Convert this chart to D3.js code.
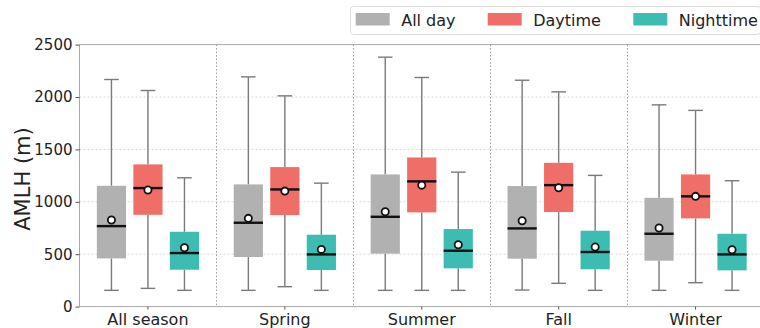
<!DOCTYPE html>
<html>
<head>
<meta charset="utf-8">
<script src="https://cdn.jsdelivr.net/npm/d3@7"></script>
<style>
  html, body { margin: 0; padding: 0; background: #fff; }
  svg { display: block; font-family: "DejaVu Sans", sans-serif; }
</style>
</head>
<body>
<svg id="chart" width="760" height="328"></svg>
<script>
// Seasons along the x axis and the three time-of-day series
const seasons = ["All season", "Spring", "Summer", "Fall", "Winter"];
const periods = ["All day", "Daytime", "Nighttime"];
const periodColors = ["#B1B1B1", "#EF6E67", "#3DBDB1"];

// Box statistics per series, one entry per season (metres)
const whiskerLow = {
  "All day":   [155, 155, 155, 158, 155],
  "Daytime":   [174, 190, 155, 222, 228],
  "Nighttime": [155, 155, 155, 155, 155]
};
const q1 = {
  "All day":   [460, 473, 505, 457, 438],
  "Daytime":   [876, 873, 899, 902, 842],
  "Nighttime": [352, 349, 365, 356, 346]
};
const medians = {
  "All day":   [768, 800, 857, 746, 695],
  "Daytime":   [1131, 1118, 1195, 1159, 1052],
  "Nighttime": [511, 498, 533, 521, 498]
};
const q3 = {
  "All day":   [1153, 1166, 1261, 1150, 1038],
  "Daytime":   [1357, 1331, 1423, 1372, 1261],
  "Nighttime": [714, 686, 740, 724, 695]
};
const whiskerHigh = {
  "All day":   [2167, 2192, 2380, 2160, 1925],
  "Daytime":   [2062, 2011, 2186, 2049, 1872],
  "Nighttime": [1229, 1178, 1283, 1252, 1201]
};
const means = {
  "All day":   [826, 842, 905, 819, 750],
  "Daytime":   [1112, 1102, 1159, 1134, 1052],
  "Nighttime": [562, 546, 590, 568, 543]
};
const yTicks = [0, 500, 1000, 1500, 2000, 2500];

const svg = d3.select("#chart");
const plot = { left: 79.5, right: 764, top: 44.6, bottom: 306.6 };

const x = d3.scaleBand().domain(seasons).range([plot.left, plot.right]).padding(0);
const groupW = x.bandwidth();
const xInner = d3.scaleBand().domain(periods).range([-0.4 * groupW, 0.4 * groupW]).padding(0);
const boxW = xInner.bandwidth() * 0.8;
const capW = boxW * 0.5;
const y = d3.scaleLinear().domain([0, 2500]).range([plot.bottom, plot.top]);

// horizontal grid
svg.append("g")
  .selectAll("line")
  .data(yTicks.filter(t => t > 0 && t < 2500))
  .join("line")
  .attr("x1", plot.left).attr("x2", plot.right)
  .attr("y1", d => y(d)).attr("y2", d => y(d))
  .attr("stroke", "#d9d9d9").attr("stroke-width", 1)
  .attr("stroke-dasharray", "2,2");

// dotted separators between seasons
svg.append("g")
  .selectAll("line")
  .data(seasons.slice(1))
  .join("line")
  .attr("x1", d => Math.round(x(d)) + 0.5).attr("x2", d => Math.round(x(d)) + 0.5)
  .attr("y1", plot.top).attr("y2", plot.bottom)
  .attr("stroke", "#9a9a9a").attr("stroke-width", 1)
  .attr("stroke-dasharray", "1.5,2");

// boxes
const boxes = [];
seasons.forEach((s, i) => {
  periods.forEach((p, j) => {
    boxes.push({
      season: s, period: p, color: periodColors[j],
      cx: x(s) + groupW / 2 + xInner(p) + xInner.bandwidth() / 2,
      lo: whiskerLow[p][i], q1: q1[p][i], med: medians[p][i],
      q3: q3[p][i], hi: whiskerHigh[p][i], mean: means[p][i]
    });
  });
});

const bg = svg.append("g").selectAll("g").data(boxes).join("g");

// whiskers
bg.append("line")
  .attr("x1", d => d.cx).attr("x2", d => d.cx)
  .attr("y1", d => y(d.q3)).attr("y2", d => y(d.hi))
  .attr("stroke", "#7a7a7a").attr("stroke-width", 1.4);
bg.append("line")
  .attr("x1", d => d.cx).attr("x2", d => d.cx)
  .attr("y1", d => y(d.q1)).attr("y2", d => y(d.lo))
  .attr("stroke", "#7a7a7a").attr("stroke-width", 1.4);
// caps
bg.append("line")
  .attr("x1", d => d.cx - capW / 2).attr("x2", d => d.cx + capW / 2)
  .attr("y1", d => y(d.hi)).attr("y2", d => y(d.hi))
  .attr("stroke", "#7a7a7a").attr("stroke-width", 1.4);
bg.append("line")
  .attr("x1", d => d.cx - capW / 2).attr("x2", d => d.cx + capW / 2)
  .attr("y1", d => y(d.lo)).attr("y2", d => y(d.lo))
  .attr("stroke", "#7a7a7a").attr("stroke-width", 1.4);
// box body
bg.append("rect")
  .attr("x", d => d.cx - boxW / 2).attr("width", boxW)
  .attr("y", d => y(d.q3)).attr("height", d => y(d.q1) - y(d.q3))
  .attr("fill", d => d.color);
// median
bg.append("line")
  .attr("x1", d => d.cx - boxW / 2).attr("x2", d => d.cx + boxW / 2)
  .attr("y1", d => y(d.med)).attr("y2", d => y(d.med))
  .attr("stroke", "#111").attr("stroke-width", 2.4);
// mean marker
bg.append("circle")
  .attr("cx", d => d.cx).attr("cy", d => y(d.mean)).attr("r", 3.6)
  .attr("fill", "#fff").attr("stroke", "#111").attr("stroke-width", 1.8);

// spines
const spine = "#a8a8a8";
svg.append("line").attr("x1", plot.left).attr("x2", plot.right)
  .attr("y1", plot.top).attr("y2", plot.top).attr("stroke", spine);
svg.append("line").attr("x1", plot.left).attr("x2", plot.right)
  .attr("y1", plot.bottom).attr("y2", plot.bottom).attr("stroke", spine);
svg.append("line").attr("x1", plot.left).attr("x2", plot.left)
  .attr("y1", plot.top).attr("y2", plot.bottom).attr("stroke", spine);

// y axis
const yAxis = svg.append("g")
  .attr("transform", `translate(${plot.left},0)`)
  .call(d3.axisLeft(y).tickValues(yTicks).tickSize(4).tickPadding(3).tickFormat(d3.format("d")));
yAxis.select(".domain").remove();
yAxis.selectAll(".tick line").attr("stroke", "#555");
yAxis.selectAll(".tick text").attr("font-size", 15).attr("fill", "#222")
  .attr("font-family", "DejaVu Sans");

// x axis
const xAxis = svg.append("g")
  .attr("transform", `translate(0,${plot.bottom})`)
  .call(d3.axisBottom(x).tickSize(3).tickPadding(4));
xAxis.select(".domain").remove();
xAxis.selectAll(".tick line").attr("stroke", "#555");
xAxis.selectAll(".tick text").attr("font-size", 16).attr("fill", "#222")
  .attr("font-family", "DejaVu Sans");

// y label
svg.append("text")
  .attr("transform", "translate(30,179) rotate(-90)")
  .attr("text-anchor", "middle")
  .attr("font-size", 21).attr("fill", "#222")
  .text("AMLH (m)");

// legend
const legend = svg.append("g");
legend.append("rect")
  .attr("x", 350.5).attr("y", 6.5).attr("width", 410).attr("height", 28)
  .attr("rx", 3).attr("fill", "#fff").attr("fill-opacity", 0.85)
  .attr("stroke", "#dcdcdc");
const legendX = [355.7, 487.7, 633.3];
periods.forEach((p, j) => {
  legend.append("rect")
    .attr("x", legendX[j]).attr("y", 13).attr("width", 34).attr("height", 12.5)
    .attr("fill", periodColors[j]);
  legend.append("text")
    .attr("x", legendX[j] + 45.5).attr("y", 25.5)
    .attr("font-size", 16).attr("fill", "#222")
    .text(p);
});
</script>
</body>
</html>
